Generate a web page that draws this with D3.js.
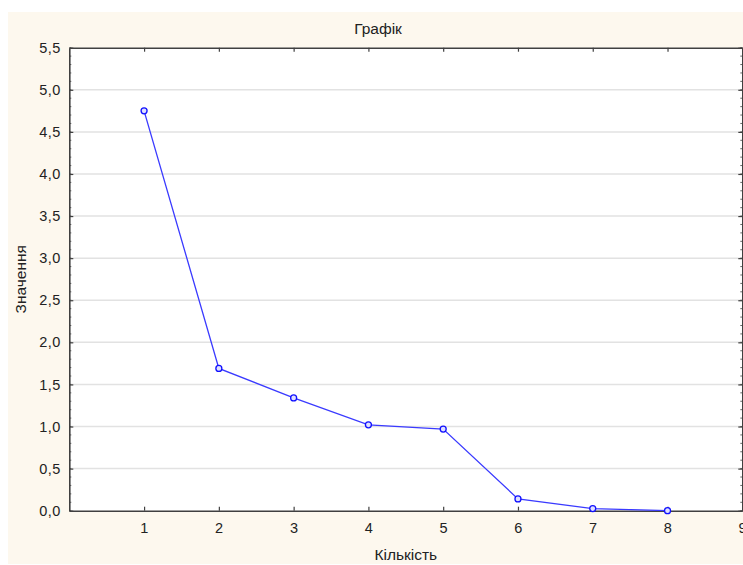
<!DOCTYPE html>
<html><head><meta charset="utf-8">
<script src="https://d3js.org/d3.v7.min.js"></script>
<style>body{margin:0;background:#fff}svg{display:block}text{font-family:"Liberation Sans",Arial,sans-serif}</style>
</head><body>
<script>
const categories = [1,2,3,4,5,6,7,8];
const values = [4.75,1.69,1.34,1.02,0.97,0.14,0.025,0.0];
const xTicks = [1,2,3,4,5,6,7,8,9];
const yTicks = [0,0.5,1,1.5,2,2.5,3,3.5,4,4.5,5,5.5];
const title = "Графік", xTitle = "Кількість", yTitle = "Значення";

const W = 743, H = 565;
const svg = d3.select("body").append("svg").attr("width", W).attr("height", H);
svg.append("rect").attr("x",8).attr("y",12).attr("width",W-8).attr("height",552).attr("fill","#fdf8ee");
const L = 69.3, R = 742.3, T = 47.7, B = 510.7;
const x = d3.scaleLinear().domain([0,9]).range([L,R]);
const y = d3.scaleLinear().domain([0,5.5]).range([B,T]);
svg.append("rect").attr("x",L).attr("y",T).attr("width",R-L).attr("height",B-T).attr("fill","#fff");
const fmt = d => d3.format(".1f")(d).replace(".", ",");
// grid
svg.append("g").selectAll("line").data(yTicks.filter(d=>d>0&&d<5.5)).join("line")
  .attr("x1",L).attr("x2",R).attr("y1",d=>y(d)).attr("y2",d=>y(d))
  .attr("stroke","#e2e2e2").attr("stroke-width",1.5);
const axCol = "#404040";
// minor y ticks
const minor = d3.range(0,56).map(i=>i/10);
svg.append("g").selectAll("line").data(minor).join("line")
  .attr("x1",L).attr("x2",L+2).attr("y1",d=>y(d)).attr("y2",d=>y(d)).attr("stroke","#666").attr("stroke-width",1);
svg.append("g").selectAll("line").data(minor).join("line")
  .attr("x1",R-2).attr("x2",R).attr("y1",d=>y(d)).attr("y2",d=>y(d)).attr("stroke","#666").attr("stroke-width",1);
// axes
const yAxis = d3.axisLeft(y).tickValues(yTicks).tickFormat(fmt).tickSizeInner(-4).tickSizeOuter(0).tickPadding(8.6);
const gy = svg.append("g").attr("transform",`translate(${L},0)`).call(yAxis);
const yAxisR = d3.axisRight(y).tickValues(yTicks).tickFormat("").tickSizeInner(-4).tickSizeOuter(0);
const gyr = svg.append("g").attr("transform",`translate(${R},0)`).call(yAxisR);
const xAxis = d3.axisBottom(x).tickValues(xTicks).tickFormat(d3.format("d")).tickSizeInner(-4).tickSizeOuter(0).tickPadding(12);
const gx = svg.append("g").attr("transform",`translate(0,${B})`).call(xAxis);
const xAxisT = d3.axisTop(x).tickValues(xTicks).tickFormat("").tickSizeInner(-4).tickSizeOuter(0);
const gxt = svg.append("g").attr("transform",`translate(0,${T})`).call(xAxisT);
[gy,gyr,gx,gxt].forEach(g=>{
  g.select(".domain").attr("stroke",axCol).attr("stroke-width",1.6);
  g.selectAll(".tick line").attr("stroke",axCol).attr("stroke-width",1.2);
  g.selectAll("text").attr("fill","#222").style("font-size","14.5px").style("letter-spacing","0.4px").style("font-family","'Liberation Sans',Arial,sans-serif");
});
// line
const pts = categories.map((c,i)=>[c,values[i]]);
svg.append("path").datum(pts).attr("fill","none").attr("stroke","#3a3aff").attr("stroke-width",1.3)
  .attr("d", d3.line().x(d=>x(d[0])).y(d=>y(d[1])));
svg.append("g").selectAll("circle").data(pts).join("circle")
  .attr("cx",d=>x(d[0])).attr("cy",d=>y(d[1])).attr("r",3)
  .attr("fill","#dfe0ff").attr("stroke","#1010ff").attr("stroke-width",1.3);
// titles
svg.append("text").attr("x",378).attr("y",33.5).attr("text-anchor","middle").attr("fill","#222").style("font-size","15.5px").text(title);
svg.append("text").attr("x",(L+R)/2).attr("y",559.5).attr("text-anchor","middle").attr("fill","#222").style("font-size","15.5px").text(xTitle);
svg.append("text").attr("transform",`translate(26,${(T+B)/2}) rotate(-90)`).attr("text-anchor","middle").attr("fill","#222").style("font-size","15.5px").text(yTitle);
</script>
</body></html>
